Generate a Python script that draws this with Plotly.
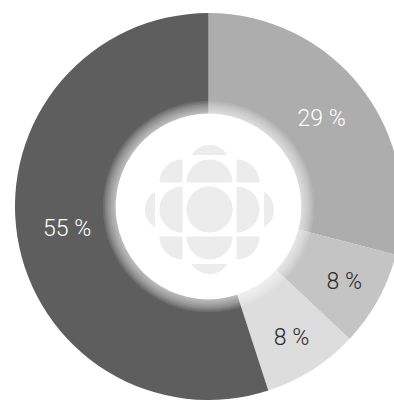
import numpy as np
import plotly.graph_objects as go

# Share of respondents per answer, clockwise from 12 o'clock
labels = ["Réponse A", "Réponse B", "Réponse C", "Réponse D"]
values = [29, 8, 8, 55]
slice_colors = ["#adadad", "#c4c4c4", "#dddddd", "#5e5e5e"]
text_colors = ["#ffffff", "#2a2a2a", "#2a2a2a", "#ffffff"]

W, H = 417, 403          # figure size in px (right edge runs past the viewport)
CX, CY = 208.5, 206.5    # ring centre in px
R = 193.5                # outer radius in px
HOLE = 0.48

fig = go.Figure()
fig.add_trace(go.Pie(
    labels=labels,
    values=values,
    sort=False,
    direction="clockwise",
    rotation=0,
    hole=HOLE,
    marker=dict(colors=slice_colors, line=dict(width=0)),
    texttemplate="%{value} %",
    textposition="inside",
    insidetextorientation="horizontal",
    textfont=dict(family="Roboto", size=23, color=text_colors, weight=300),
    showlegend=False,
    hoverinfo="skip",
    domain=dict(x=[0, 1], y=[(H - (CY + R)) / H, (H - (CY - R)) / H]),
))

shapes = []

# soft white fade at the inner edge of the ring
r_in = R * HOLE
for k in range(1, 9):
    rr = r_in + 1.6 * k
    shapes.append(dict(type="circle", xref="x", yref="y",
                       x0=CX - rr, x1=CX + rr, y0=CY - rr, y1=CY + rr,
                       fillcolor="rgba(255,255,255,0.10)", line=dict(width=0),
                       layer="above"))


def poly_path(xs, ys):
    pts = " L ".join(f"{x:.2f},{y:.2f}" for x, y in zip(xs, ys))
    return f"M {pts} Z"


def arc(cx, cy, r, a0, a1, n=40):
    t = np.radians(np.linspace(a0, a1, n))
    return cx + r * np.cos(t), cy + r * np.sin(t)


# gem emblem in the centre (screen coords: y grows downward)
GX, GY = 209.5, 209.5
gr = 23       # piece radius
off = 27      # offset of side pieces from the centre
gem_fill = "#ececec"
pieces = []

# centre disc
xs, ys = arc(GX, GY, gr, 0, 360, 60)
pieces.append((xs, ys))

# half discs on the four sides, flat side toward the centre
for ang in (0, 90, 180, 270):
    dx, dy = np.cos(np.radians(ang)), np.sin(np.radians(ang))
    cx, cy = GX + dx * off, GY + dy * off
    xs, ys = arc(cx, cy, gr, ang - 90, ang + 90)
    pieces.append((xs, ys))

# quarter discs in the four corners
for sx, sy in ((1, 1), (-1, 1), (-1, -1), (1, -1)):
    cx, cy = GX + sx * off, GY + sy * off
    mid = np.degrees(np.arctan2(sy, sx))
    xs, ys = arc(cx, cy, gr, mid - 45, mid + 45)
    xs = np.append(xs, cx)
    ys = np.append(ys, cy)
    pieces.append((xs, ys))

# thin outer segments
seg_r = 21
for ang in (0, 90, 180, 270):
    dx, dy = np.cos(np.radians(ang)), np.sin(np.radians(ang))
    cx, cy = GX + dx * 43.5, GY + dy * 43.5
    half = np.degrees(np.arccos(11 / seg_r))
    xs, ys = arc(cx, cy, seg_r, ang - half, ang + half)
    pieces.append((xs, ys))

for xs, ys in pieces:
    shapes.append(dict(type="path", xref="x", yref="y", path=poly_path(xs, ys),
                       fillcolor=gem_fill, line=dict(width=0), layer="above"))

fig.update_layout(
    width=W, height=H,
    margin=dict(l=0, r=0, t=0, b=0),
    paper_bgcolor="white",
    plot_bgcolor="rgba(0,0,0,0)",
    xaxis=dict(range=[0, W], visible=False, fixedrange=True),
    yaxis=dict(range=[H, 0], visible=False, fixedrange=True),
    shapes=shapes,
)

fig.write_html(
    "out.html",
    config={"displayModeBar": False, "staticPlot": True},
    post_script="document.documentElement.style.overflow='hidden';"
                "document.body.style.overflow='hidden';document.body.style.margin='0';",
)
